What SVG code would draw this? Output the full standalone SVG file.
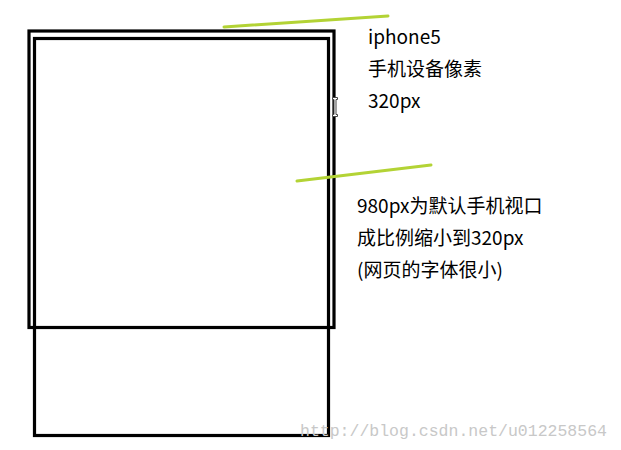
<svg xmlns="http://www.w3.org/2000/svg" width="621" height="450" viewBox="0 0 621 450">
<defs>
<style>
.box{fill:none;stroke:#000;stroke-width:3.2}
.hl{stroke:#b3d335;stroke-width:3;stroke-linecap:round;fill:none}
.t{font-family:"Microsoft YaHei","Noto Sans CJK SC","Noto Sans",sans-serif;font-size:19px;fill:#000}
.wm{font-family:"Liberation Mono",monospace;font-size:16.5px;fill:#c8c8c8}
</style>
</defs>
<rect width="621" height="450" fill="#fff"/>
<g id="viewport-980">
<rect class="box" x="34.5" y="38.5" width="294" height="397"/>
</g>
<g id="device-320">
<rect class="box" x="29" y="31" width="305" height="296.5"/>
</g>
<g id="connectors">
<line class="hl" x1="224" y1="27" x2="388" y2="16"/>
<line class="hl" x1="297" y1="181" x2="431" y2="165"/>
</g>
<g id="cursor">
<path d="M332.5 97.5h5v2h-1.5v15h1.5v2h-5v-2h1.5v-15h-1.5z" fill="#fff" stroke="#444" stroke-width="1"/>
</g>
<g id="label-device">
<text class="t" x="368" y="44">iphone5</text>
<text class="t" x="368" y="76">手机设备像素</text>
<text class="t" x="368" y="108">320px</text>
</g>
<g id="label-viewport">
<text class="t" x="357" y="213">980px为默认手机视口</text>
<text class="t" x="357" y="245">成比例缩小到320px</text>
<text class="t" x="357" y="277">(网页的字体很小)</text>
</g>
<text class="wm" x="300" y="436">http://blog.csdn.net/u012258564</text>
</svg>
